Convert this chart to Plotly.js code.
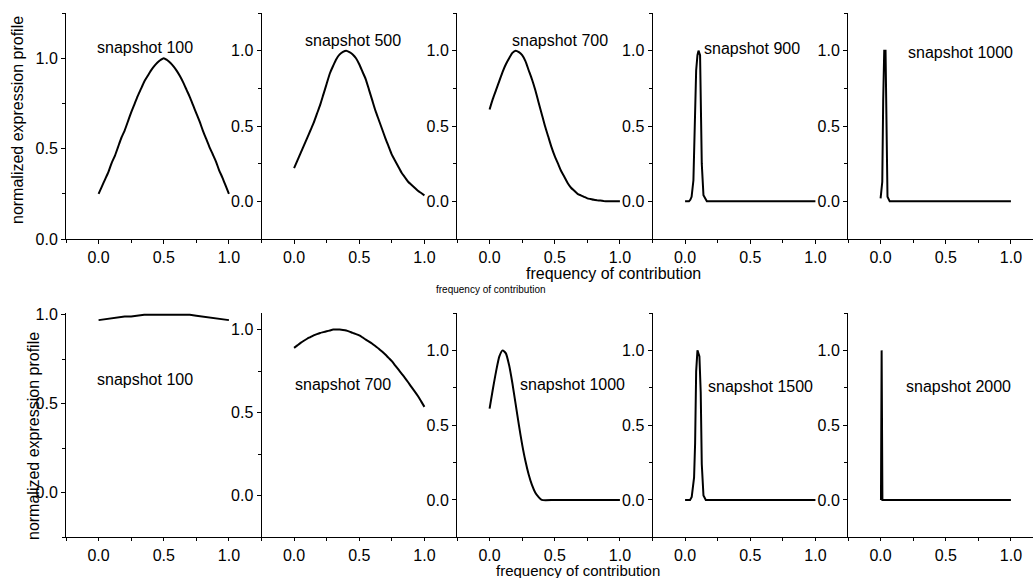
<!DOCTYPE html>
<html>
<head>
<meta charset="utf-8">
<script src="https://cdn.plot.ly/plotly-3.0.1.min.js"></script>
<style>
html,body{margin:0;padding:0;overflow:hidden;background:#fff;}
#chart{width:1050px;height:578px;}
</style>
</head>
<body>
<div id="chart"></div>
<script>
// ---- data ----
const xStep = [0,0.05,0.1,0.15,0.2,0.25,0.3,0.35,0.4,0.45,0.5,0.55,0.6,0.65,0.7,0.75,0.8,0.85,0.9,0.95,1.0];
const xFine = [0,0.025,0.05,0.075,0.1,0.125,0.15,0.175,0.2,0.225,0.25,0.275,0.3,0.325,0.35,0.375,0.4,0.425,0.45,0.475,
               0.5,0.525,0.55,0.575,0.6,0.625,0.65,0.675,0.7,0.725,0.75,0.775,0.8,0.825,0.85,0.875,0.9,0.925,0.95,0.975,1.0];

const top100Y = [0.25,0.29,0.33,0.37,0.42,0.46,0.51,0.56,0.60,0.65,0.70,0.745,0.79,0.83,0.87,0.90,0.93,0.955,0.975,0.99,
                 1.0,0.99,0.975,0.955,0.93,0.90,0.865,0.825,0.785,0.74,0.695,0.65,0.60,0.555,0.51,0.47,0.43,0.38,0.34,0.295,0.25];
const top500Y = [0.22,0.27,0.32,0.37,0.42,0.47,0.52,0.58,0.64,0.71,0.78,0.85,0.90,0.945,0.975,0.992,1.0,0.99,0.975,0.95,
                 0.91,0.86,0.81,0.74,0.67,0.60,0.54,0.48,0.42,0.365,0.31,0.27,0.23,0.19,0.16,0.13,0.11,0.09,0.07,0.055,0.04];
const top700Y = [0.61,0.68,0.74,0.80,0.86,0.91,0.95,0.985,1.0,0.99,0.97,0.93,0.87,0.81,0.74,0.66,0.58,0.50,0.43,0.36,
                 0.30,0.25,0.20,0.16,0.12,0.09,0.07,0.05,0.04,0.03,0.02,0.015,0.01,0.007,0.005,0.002,0,0,0,0,0];
const top900X = [0,0.03,0.04,0.05,0.064,0.072,0.085,0.095,0.103,0.115,0.12,0.128,0.141,0.167,0.25,0.5,0.75,1.0];
const top900Y = [0,0,0.01,0.03,0.14,0.38,0.87,0.97,1.0,0.97,0.72,0.25,0.04,0,0,0,0,0];
const top1000X = [0,0.013,0.02,0.028,0.038,0.046,0.053,0.07,0.25,0.5,0.75,1.0];
const top1000Y = [0.02,0.13,0.67,1.0,1.0,0.6,0.03,0,0,0,0,0];

const bot100Y = [0.97,0.975,0.98,0.985,0.99,0.99,0.995,1.0,1.0,1.0,1.0,1.0,1.0,1.0,1.0,0.995,0.99,0.985,0.98,0.975,0.97];
const bot700Y = [0.89,0.905,0.92,0.933,0.945,0.955,0.965,0.973,0.98,0.985,0.99,0.995,1.0,1.0,1.0,0.998,0.995,0.988,0.98,0.973,
                 0.965,0.953,0.94,0.928,0.915,0.90,0.885,0.868,0.85,0.83,0.81,0.785,0.76,0.735,0.71,0.683,0.655,0.628,0.60,0.568,0.535];
const bot1000X = [0,0.025,0.05,0.075,0.1,0.125,0.15,0.175,0.2,0.225,0.25,0.275,0.3,0.325,0.35,0.375,0.4,0.5,0.6,0.7,0.8,0.9,1.0];
const bot1000Y = [0.61,0.74,0.86,0.96,1.0,0.98,0.90,0.78,0.64,0.50,0.37,0.26,0.17,0.10,0.05,0.02,0,0,0,0,0,0,0];
const bot1500X = [0,0.038,0.051,0.059,0.069,0.077,0.085,0.095,0.11,0.12,0.128,0.141,0.159,0.25,0.5,0.75,1.0];
const bot1500Y = [0,0,0.02,0.08,0.15,0.38,0.86,1.0,0.96,0.72,0.24,0.03,0,0,0,0,0];
const bot2000X = [0.003,0.008,0.014,0.05,0.25,0.5,0.75,1.0];
const bot2000Y = [0,1.0,0,0,0,0,0,0];

const panelLabels = ["snapshot 100","snapshot 500","snapshot 700","snapshot 900","snapshot 1000",
                     "snapshot 100","snapshot 700","snapshot 1000","snapshot 1500","snapshot 2000"];
const seriesX = [xFine,xFine,xFine,top900X,top1000X, xStep,xFine,bot1000X,bot1500X,bot2000X];
const seriesY = [top100Y,top500Y,top700Y,top900Y,top1000Y, bot100Y,bot700Y,bot1000Y,bot1500Y,bot2000Y];
const yTitle = "normalized expression profile";
const xTitle = "frequency of contribution";

// ---- layout helpers (pixel positions) ----
const W = 1050, H = 578;
const fx = p => p / W;
const fy = p => 1 - p / H;
const FONT = "Liberation Sans, Arial, sans-serif";

const colLeft = [66, 261.5, 457, 652.5, 848];
const colWidth = 195.5;
const rowPix = [[13, 239], [313, 537.3]];
const yRanges = [[0,1.25],[-0.25,1.25],[-0.25,1.25],[-0.25,1.25],[-0.25,1.25],
                 [-0.25,1.01],[-0.25,1.1],[-0.25,1.25],[-0.25,1.25],[-0.25,1.25]];
const labelPos = [[95,48],[303,41],[510,41],[702,49],[906,52],
                  [95,379],[293,384],[518,384],[706,386],[904,386]];
const smoothPanel = [true,true,true,false,false, false,true,true,false,false];

const data = [];
const layout = {
  width: W, height: H,
  margin: {l:0, r:0, t:0, b:0},
  paper_bgcolor: "#fff", plot_bgcolor: "rgba(0,0,0,0)",
  showlegend: false,
  font: {family: FONT, size: 16, color: "#000"},
  annotations: []
};

for (let k = 0; k < 10; k++) {
  const n = k + 1;
  const row = k < 5 ? 0 : 1;
  const col = k % 5;
  const xa = n === 1 ? "xaxis" : "xaxis" + n;
  const ya = n === 1 ? "yaxis" : "yaxis" + n;
  const xr = n === 1 ? "x" : "x" + n;
  const yr = n === 1 ? "y" : "y" + n;
  data.push({
    type: "scatter", mode: "lines",
    x: seriesX[k], y: seriesY[k],
    xaxis: xr, yaxis: yr,
    line: smoothPanel[k] ? {color: "#000", width: 2, shape: "spline", smoothing: 0.6}
                         : {color: "#000", width: 2},
    hoverinfo: "skip"
  });
  layout[xa] = {
    domain: [fx(colLeft[col]), fx(colLeft[col] + colWidth)],
    anchor: yr,
    range: [-0.25, 1.25],
    tick0: 0, dtick: 0.5, tickformat: ".1f",
    showline: true, linecolor: "#000", linewidth: 1,
    ticks: "outside", ticklen: row === 0 ? 4 : 3, tickcolor: "#000", tickwidth: 1,
    minor: {dtick: 0.25, tick0: 0, ticks: "outside", ticklen: 3, tickcolor: "#000"},
    showgrid: false, zeroline: false,
    tickfont: {family: FONT, size: 16, color: "#000"},
    fixedrange: true
  };
  layout[ya] = {
    domain: [fy(rowPix[row][1]), fy(rowPix[row][0])],
    anchor: xr,
    range: yRanges[k],
    tick0: 0, dtick: 0.5, tickformat: ".1f",
    showline: true, linecolor: "#000", linewidth: 1,
    ticks: "outside", ticklen: 4, tickcolor: "#000", tickwidth: 1,
    minor: {dtick: 0.25, tick0: 0, ticks: "outside", ticklen: 3, tickcolor: "#000"},
    showgrid: false, zeroline: false,
    tickfont: {family: FONT, size: 16, color: "#000"},
    fixedrange: true
  };
  layout.annotations.push({
    xref: "paper", yref: "paper",
    x: fx(labelPos[k][0]), y: fy(labelPos[k][1]),
    xanchor: "left", yanchor: "middle",
    text: panelLabels[k], showarrow: false,
    font: {family: FONT, size: 16, color: "#000"}
  });
}

// axis titles
layout.annotations.push(
  {xref:"paper", yref:"paper", x: fx(18), y: fy(120), text: yTitle, textangle: -90,
   showarrow:false, xanchor:"center", yanchor:"middle", font:{family:FONT, size:16, color:"#000"}},
  {xref:"paper", yref:"paper", x: fx(33), y: fy(436), text: yTitle, textangle: -90,
   showarrow:false, xanchor:"center", yanchor:"middle", font:{family:FONT, size:16, color:"#000"}},
  {xref:"paper", yref:"paper", x: fx(613), y: fy(274), text: xTitle,
   showarrow:false, xanchor:"center", yanchor:"middle", font:{family:FONT, size:16, color:"#000"}},
  {xref:"paper", yref:"paper", x: fx(491), y: fy(289), text: xTitle,
   showarrow:false, xanchor:"center", yanchor:"middle", font:{family:FONT, size:10, color:"#000"}},
  {xref:"paper", yref:"paper", x: fx(578), y: fy(570.5), text: xTitle, borderpad: 0,
   showarrow:false, xanchor:"center", yanchor:"middle", font:{family:FONT, size:15, color:"#000"}}
);

Plotly.newPlot("chart", data, layout, {displayModeBar: false, staticPlot: true});
</script>
</body>
</html>
